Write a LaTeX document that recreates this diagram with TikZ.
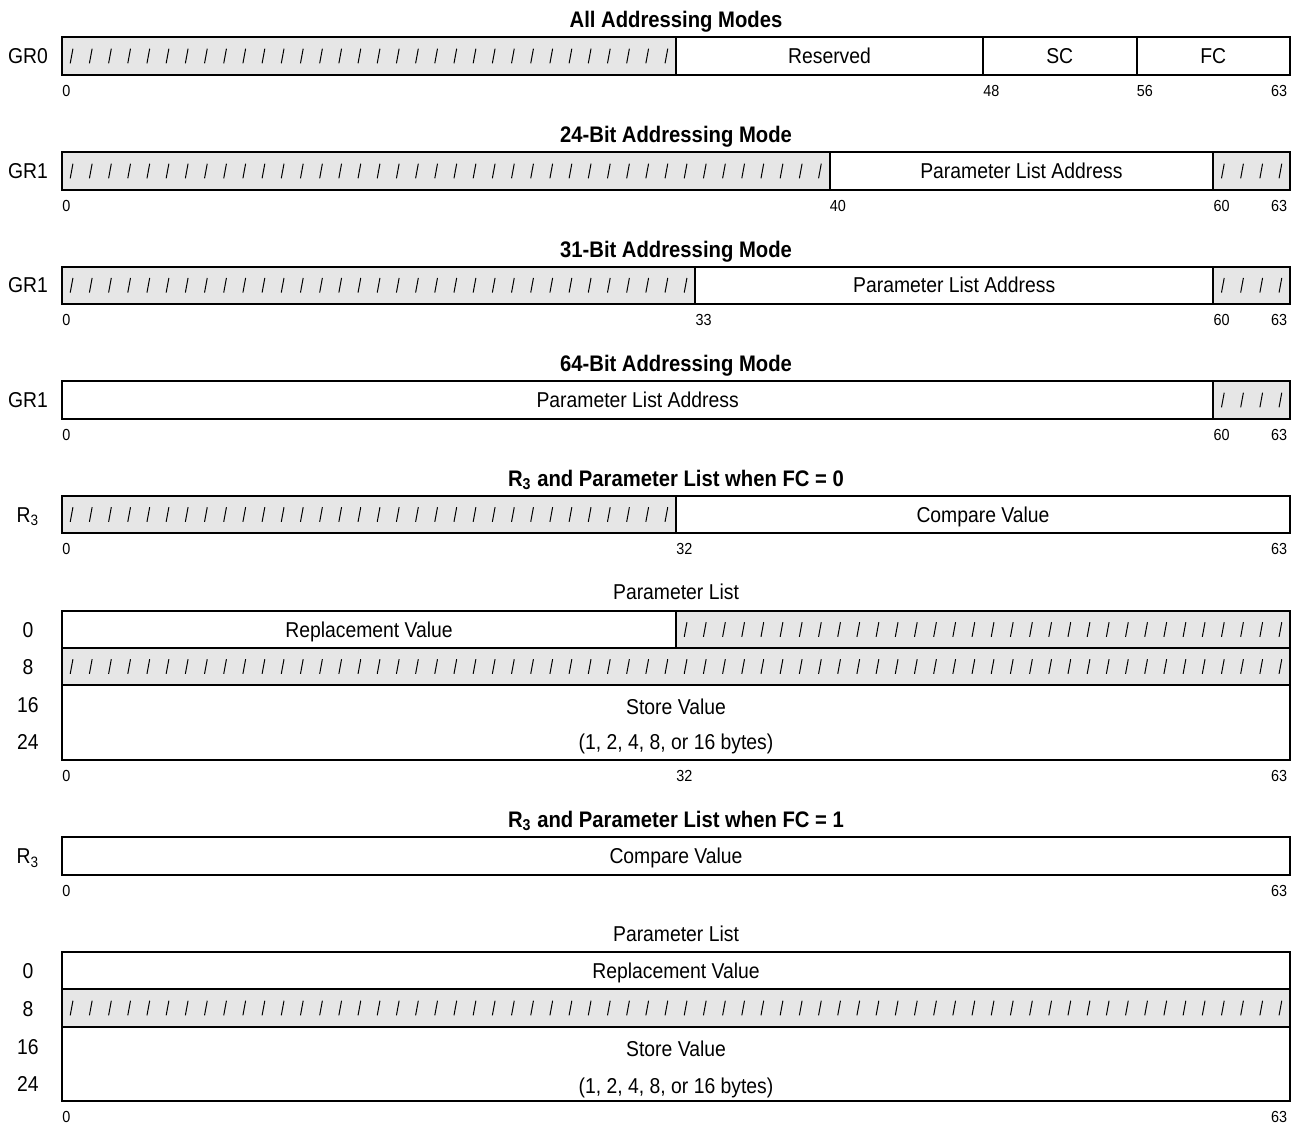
\documentclass[tikz,border=0pt]{standalone}
\usepackage{fontspec}
\setmainfont[FakeStretch=0.9]{Liberation Sans}
\definecolor{hatchgray}{RGB}{230,230,230}

\begin{document}
\begin{tikzpicture}[x=9.59375pt, y=-0.5pt,
    fld/.style={draw=black, line width=1pt},
    hatched/.style={fld, fill=hatchgray},
    ttl/.style={font=\fontsize{11.25}{13}\selectfont\bfseries, inner sep=0pt,
        text height=8.1pt, text depth=0pt},
    txt/.style={font=\fontsize{10.75}{13}\selectfont, inner sep=0pt,
        text height=7.7pt, text depth=0pt},
    bitno/.style={font=\fontsize{8}{9}\selectfont, inner sep=0pt, anchor=west,
        text height=5.7pt, text depth=0pt},
    sl/.style={line width=0.5pt}
  ]
  \useasboundingbox (-3.2313,0) rectangle (64.625,1124);

  % GR0, all addressing modes
  \node[ttl] (allmodes) at (32,19) {All Addressing Modes};
  \draw[hatched] (0,37) rectangle (32,75);
  \draw[fld] (32,37) rectangle (48,75) (48,37) rectangle (56,75) (56,37) rectangle (64,75);
  \foreach \i in {0,...,31}
    \draw[sl] (\i+0.5,56) ++(-0.68pt,-3.65pt) -- ++(1.35pt,7.3pt);
  \node[txt] (gr0) at (-1.772,56) {GR0};
  \node[txt] (reserved) at (40,56) {Reserved};
  \node[txt] (sc) at (52,56) {SC};
  \node[txt] (fc) at (60,56) {FC};
  \node[bitno] (a0) at (0,91) {0};
  \node[bitno] (a48) at (48,91) {48};
  \node[bitno] (a56) at (56,91) {56};
  \node[bitno] (a63) at (63,91) {63};

  % GR1, 24-bit
  \node[ttl] (mode24) at (32,134) {24-Bit Addressing Mode};
  \draw[hatched] (0,152) rectangle (40,190);
  \draw[fld] (40,152) rectangle (60,190);
  \draw[hatched] (60,152) rectangle (64,190);
  \foreach \i in {0,...,39,60,61,62,63}
    \draw[sl] (\i+0.5,171) ++(-0.68pt,-3.65pt) -- ++(1.35pt,7.3pt);
  \node[txt] (gr1a) at (-1.772,171) {GR1};
  \node[txt] (pla24) at (50,171) {Parameter List Address};
  \node[bitno] (b0) at (0,206) {0};
  \node[bitno] (b40) at (40,206) {40};
  \node[bitno] (b60) at (60,206) {60};
  \node[bitno] (b63) at (63,206) {63};

  % GR1, 31-bit
  \node[ttl] (mode31) at (32,249) {31-Bit Addressing Mode};
  \draw[hatched] (0,266.5) rectangle (33,304);
  \draw[fld] (33,266.5) rectangle (60,304);
  \draw[hatched] (60,266.5) rectangle (64,304);
  \foreach \i in {0,...,32,60,61,62,63}
    \draw[sl] (\i+0.5,285.25) ++(-0.68pt,-3.65pt) -- ++(1.35pt,7.3pt);
  \node[txt] (gr1b) at (-1.772,285.25) {GR1};
  \node[txt] (pla31) at (46.5,285.25) {Parameter List Address};
  \node[bitno] (c0) at (0,320) {0};
  \node[bitno] (c33) at (33,320) {33};
  \node[bitno] (c60) at (60,320) {60};
  \node[bitno] (c63) at (63,320) {63};

  % GR1, 64-bit
  \node[ttl] (mode64) at (32,363) {64-Bit Addressing Mode};
  \draw[fld] (0,381) rectangle (60,419);
  \draw[hatched] (60,381) rectangle (64,419);
  \foreach \i in {60,...,63}
    \draw[sl] (\i+0.5,400) ++(-0.68pt,-3.65pt) -- ++(1.35pt,7.3pt);
  \node[txt] (gr1c) at (-1.772,400) {GR1};
  \node[txt] (pla64) at (30,400) {Parameter List Address};
  \node[bitno] (d0) at (0,435) {0};
  \node[bitno] (d60) at (60,435) {60};
  \node[bitno] (d63) at (63,435) {63};

  % FC = 0
  \node[ttl] (fczero) at (32,478) {R\textsubscript{3} and Parameter List when FC = 0};
  \draw[hatched] (0,496) rectangle (32,533);
  \draw[fld] (32,496) rectangle (64,533);
  \foreach \i in {0,...,31}
    \draw[sl] (\i+0.5,514.5) ++(-0.68pt,-3.65pt) -- ++(1.35pt,7.3pt);
  \node[txt] (rthreea) at (-1.772,514.5) {R\textsubscript{3}};
  \node[txt] (cmpa) at (48,514.5) {Compare Value};
  \node[bitno] (e0) at (0,549) {0};
  \node[bitno] (e32) at (32,549) {32};
  \node[bitno] (e63) at (63,549) {63};

  \node[txt] (plista) at (32,592) {Parameter List};
  \draw[fld] (0,611) rectangle (32,648);
  \draw[hatched] (32,611) rectangle (64,648);
  \draw[hatched] (0,648) rectangle (64,685);
  \draw[fld] (0,685) rectangle (64,760);
  \foreach \i in {32,...,63}
    \draw[sl] (\i+0.5,629.5) ++(-0.68pt,-3.65pt) -- ++(1.35pt,7.3pt);
  \foreach \i in {0,...,63}
    \draw[sl] (\i+0.5,666.5) ++(-0.68pt,-3.65pt) -- ++(1.35pt,7.3pt);
  \node[txt] (oa0) at (-1.772,629.5) {0};
  \node[txt] (oa8) at (-1.772,667) {8};
  \node[txt] (oa16) at (-1.772,705) {16};
  \node[txt] (oa24) at (-1.772,742) {24};
  \node[txt] (repla) at (16,629.5) {Replacement Value};
  \node[txt] (storea) at (32,707) {Store Value};
  \node[txt] (sizea) at (32,742) {(1, 2, 4, 8, or 16 bytes)};
  \node[bitno] (f0) at (0,776) {0};
  \node[bitno] (f32) at (32,776) {32};
  \node[bitno] (f63) at (63,776) {63};

  % FC = 1
  \node[ttl] (fcone) at (32,819) {R\textsubscript{3} and Parameter List when FC = 1};
  \draw[fld] (0,837) rectangle (64,875);
  \node[txt] (rthreeb) at (-1.772,856) {R\textsubscript{3}};
  \node[txt] (cmpb) at (32,856) {Compare Value};
  \node[bitno] (g0) at (0,891) {0};
  \node[bitno] (g63) at (63,891) {63};

  \node[txt] (plistb) at (32,934) {Parameter List};
  \draw[fld] (0,952) rectangle (64,989);
  \draw[hatched] (0,989) rectangle (64,1027);
  \draw[fld] (0,1027) rectangle (64,1101);
  \foreach \i in {0,...,63}
    \draw[sl] (\i+0.5,1008) ++(-0.68pt,-3.65pt) -- ++(1.35pt,7.3pt);
  \node[txt] (ob0) at (-1.772,971) {0};
  \node[txt] (ob8) at (-1.772,1009) {8};
  \node[txt] (ob16) at (-1.772,1047) {16};
  \node[txt] (ob24) at (-1.772,1084) {24};
  \node[txt] (replb) at (32,970.5) {Replacement Value};
  \node[txt] (storeb) at (32,1049) {Store Value};
  \node[txt] (sizeb) at (32,1086) {(1, 2, 4, 8, or 16 bytes)};
  \node[bitno] (h0) at (0,1117) {0};
  \node[bitno] (h63) at (63,1117) {63};
\end{tikzpicture}
\end{document}
